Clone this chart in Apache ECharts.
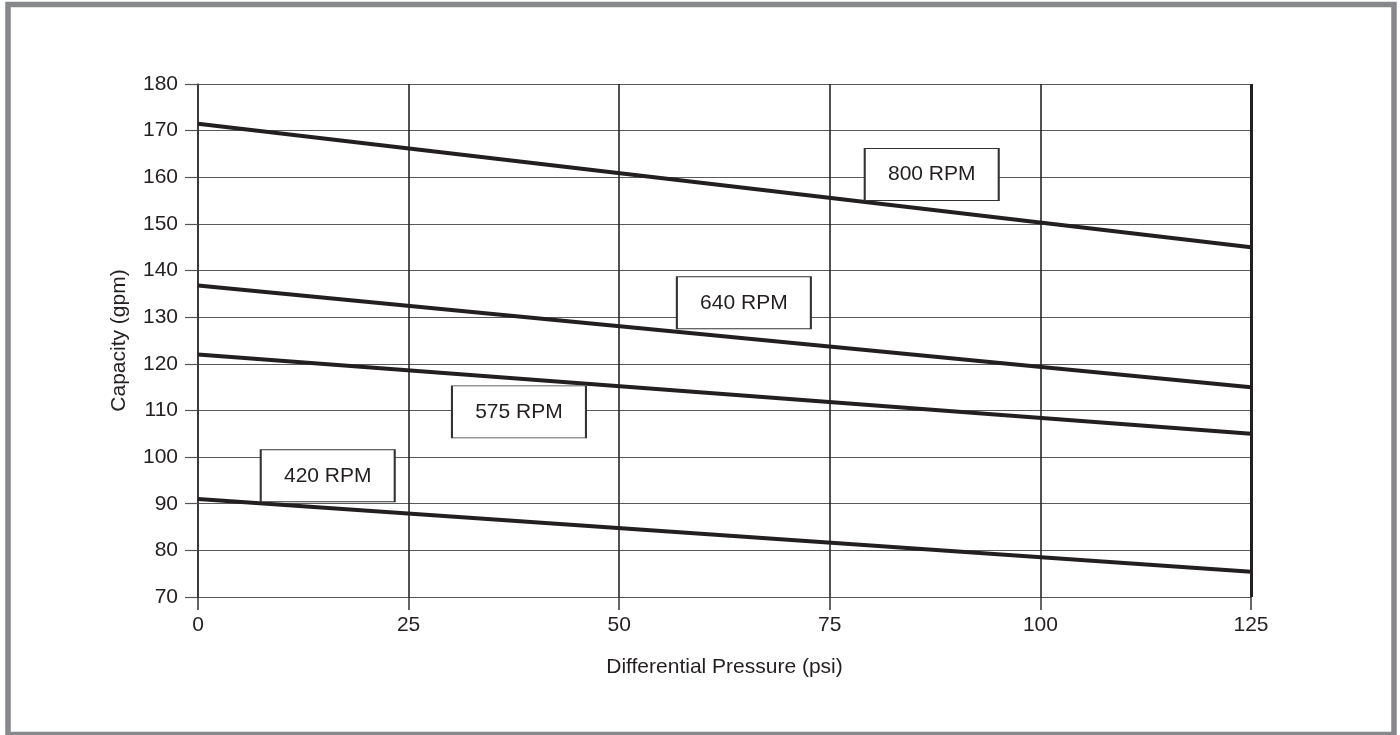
<!DOCTYPE html>
<html>
<head>
<meta charset="utf-8">
<script src="https://cdn.jsdelivr.net/npm/echarts@6/dist/echarts.min.js"></script>
<style>
html,body{margin:0;padding:0;background:#fff;}
#chart{width:1400px;height:735px;}
</style>
</head>
<body>
<div id="chart"></div>
<script>
const pressure = [0, 125];
const rpm800 = [171.5, 145];
const rpm640 = [136.8, 115];
const rpm575 = [122, 105];
const rpm420 = [91, 75.4];
const seriesNames = ['800 RPM', '640 RPM', '575 RPM', '420 RPM'];
const seriesValues = [rpm800, rpm640, rpm575, rpm420];
const labelX = [87.1, 64.8, 38.1, 15.4];
const labelY = [160.6, 133.1, 109.7, 96.0];
const xTicks = [0, 25, 50, 75, 100, 125];
const yTicks = [70, 80, 90, 100, 110, 120, 130, 140, 150, 160, 170, 180];

const FONT = '"Liberation Sans", Arial, sans-serif';
const INK = '#231f20';

const chart = echarts.init(document.getElementById('chart'), null, {renderer: 'canvas'});

const lineSeries = seriesNames.map((name, i) => ({
  name: name,
  type: 'line',
  data: pressure.map((p, j) => [p, seriesValues[i][j]]),
  symbol: 'none',
  lineStyle: {color: INK, width: 4},
  z: 3,
  silent: true
}));

const boxSeries = {
  type: 'scatter',
  data: seriesNames.map((n, i) => ({value: [labelX[i], labelY[i]], name: n})),
  symbol: 'rect',
  symbolSize: [134, 52],
  itemStyle: {color: '#ffffff', borderColor: '#333333', borderWidth: 1.3, opacity: 1},
  label: {
    show: true, position: 'inside', formatter: '{b}',
    color: INK, fontSize: 21, fontFamily: FONT
  },
  z: 5,
  silent: true
};

const edgeSeries = {
  type: 'line',
  data: [],
  markLine: {
    silent: true,
    symbol: 'none',
    label: {show: false},
    lineStyle: {color: '#231f20', width: 3, type: 'solid'},
    data: [{xAxis: 125}]
  },
  z: 2
};

chart.setOption({
  animation: false,
  backgroundColor: '#ffffff',
  graphic: [{
    type: 'rect',
    shape: {x: 8, y: 4.5, width: 1386, height: 730},
    style: {fill: 'none', stroke: '#87888c', lineWidth: 5.5},
    z: 10
  }],
  grid: {left: 198, right: 149, top: 84, bottom: 138, containLabel: false},
  xAxis: {
    type: 'value',
    min: 0, max: 125, interval: 25,
    name: 'Differential Pressure (psi)',
    nameLocation: 'middle',
    nameGap: 60,
    nameTextStyle: {color: INK, fontSize: 21, fontFamily: FONT},
    axisLine: {show: true, lineStyle: {color: '#555555', width: 1}},
    axisTick: {show: true, length: 13, lineStyle: {color: '#333333', width: 1.5}},
    axisLabel: {color: INK, fontSize: 21, fontFamily: FONT, margin: 18,
      formatter: v => xTicks.includes(v) ? String(v) : ''},
    splitLine: {show: true, lineStyle: {color: '#262626', width: 1.6}}
  },
  yAxis: {
    type: 'value',
    min: 70, max: 180, interval: 10,
    name: 'Capacity (gpm)',
    nameLocation: 'middle',
    nameGap: 68,
    nameTextStyle: {color: INK, fontSize: 21, fontFamily: FONT},
    axisLine: {show: true, lineStyle: {color: '#333333', width: 1.5}},
    axisTick: {show: true, length: 13, lineStyle: {color: '#555555', width: 1.2}},
    axisLabel: {color: INK, fontSize: 21, fontFamily: FONT, margin: 20,
      formatter: v => yTicks.includes(v) ? String(v) : ''},
    splitLine: {show: true, lineStyle: {color: '#5a5a5a', width: 1.2}}
  },
  series: [...lineSeries, edgeSeries, boxSeries]
});
</script>
</body>
</html>
